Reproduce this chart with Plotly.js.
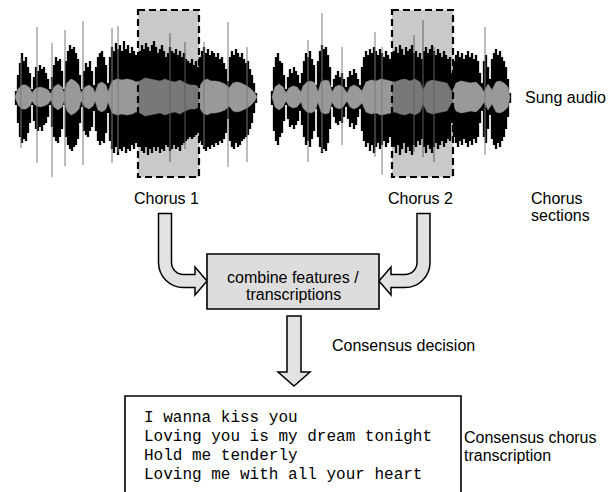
<!DOCTYPE html>
<html><head><meta charset="utf-8">
<script src="https://cdn.plot.ly/plotly-3.0.1.min.js"></script>
<style>html,body{margin:0;padding:0;background:#fff}#chart{width:608px;height:492px}</style>
</head><body><div id="chart"></div>
<script>
// ---------- DATA ----------
// Waveform peaks, segment 1 (sample times 16..256 every 2 units; upper / lower peak amplitude)
const seg1Time = [16,18,20,22,24,26,28,30,32,34,36,38,40,42,44,46,48,50,52,54,56,58,60,62,64,66,68,70,72,74,76,78,80,82,84,86,88,90,92,94,96,98,100,102,104,106,108,110,112,114,116,118,120,122,124,126,128,130,132,134,136,138,140,142,144,146,148,150,152,154,156,158,160,162,164,166,168,170,172,174,176,178,180,182,184,186,188,190,192,194,196,198,200,202,204,206,208,210,212,214,216,218,220,222,224,226,228,230,232,234,236,238,240,242,244,246,248,250,252,254,256];
const seg1PeakUp = [6,22,34,44,36,40,30,24,8, 20,30,26,32,28,30,24,18,8, 20,32,40,36,38,26, 8, 36,46,52,48,50,44,38,22, 8, 26,34,30,36,26,12, 30,40,44,46,40,32,14,
  40,50,46,54,48,52,46,56,48,52,44,50,46,42,
  40,46,52,48,54,50,46,52,56,50,44,48,52,46,40,44,50,46,44,48,42,46,40,44,38,36,34,38,32,36,30,
  40,46,50,44,48,42,46,44,40,44,38,40,34,28,16,
  40,46,42,48,44,40,44,38,34,36,28,22,14,4];
const seg1PeakDown = [8,26,40,46,42,44,36,26,8, 24,32,34,30,34,28,26,20,8, 30,40,44,46,40,32, 8, 40,48,52,54,50,48,42,26, 10, 34,38,40,34,30,14, 34,44,48,44,46,36,16,
  44,52,56,50,58,52,54,50,56,52,54,48,52,46,
  44,50,54,56,50,58,52,56,50,54,50,56,52,54,48,50,54,52,48,52,50,54,48,46,44,42,40,42,40,38,36,
  44,48,52,54,50,52,48,50,46,48,44,46,42,36,22,
  44,50,52,46,50,48,44,42,40,38,32,26,16,6];
// segment 2 (sample times 272..510 every 2 units)
const seg2Time = [272,274,276,278,280,282,284,286,288,290,292,294,296,298,300,302,304,306,308,310,312,314,316,318,320,322,324,326,328,330,332,334,336,338,340,342,344,346,348,350,352,354,356,358,360,362,364,366,368,370,372,374,376,378,380,382,384,386,388,390,392,394,396,398,400,402,404,406,408,410,412,414,416,418,420,422,424,426,428,430,432,434,436,438,440,442,444,446,448,450,452,454,456,458,460,462,464,466,468,470,472,474,476,478,480,482,484,486,488,490,492,494,496,498,500,502,504,506,508,510];
const seg2PeakUp = [6,30,40,44,36,34,22, 8, 20,28,24,30,26,22,14, 24,36,44,40,46,38,32,12, 36,46,52,48,50,42,30, 10, 18,22,26,20,24,18,10, 20,26,22,28,24,18,12,
  30,40,46,42,48,44,50,46,42,48,44,40,46,42,38,
  40,46,50,44,52,48,42,50,46,48,52,44,46,40,44,38,46,50,44,48,52,46,42,48,44,40,46,42,38,40,24,
  36,42,46,40,44,38,42,46,40,44,38,42,36,24,
  14,36,42,30,18,38,44,48,42,46,40,36,30,18,4];
const seg2PeakDown = [8,34,44,48,40,36,24, 8, 22,30,28,32,28,24,14, 28,40,48,44,50,42,34,12, 40,50,56,52,54,46,32, 10, 20,26,28,24,26,20,10, 22,30,26,32,28,20,12,
  34,44,50,46,54,48,56,50,46,52,48,44,50,46,40,
  44,50,56,48,58,52,46,56,50,54,58,48,50,44,48,42,50,56,48,52,56,50,46,52,48,44,50,46,42,44,26,
  40,46,50,44,48,42,46,50,44,48,42,46,40,26,
  14,40,46,32,18,42,48,52,46,50,44,40,32,20,6];
// inner (RMS-like) envelope
const seg1InnerTime = [15,18,22,26,30,32,35,40,44,48,51,54,58,62,64,67,71,75,79,81,85,89,93,95,98,102,106,108,112,117,122,127,132,136,140,145,150,155,160,165,170,175,180,185,190,195,199,203,207,211,215,220,225,229,233,237,241,245,250,254,257];
const seg1Inner = [0,8,12,12,9,4,8,10,9,7,3,10,13,10,4,14,18,16,12,4,10,12,9,4,13,15,12,5,16,18,17,18,17,15,16,19,18,17,16,18,16,15,17,14,12,12,10,16,18,16,16,15,13,9,14,15,14,12,9,5,0];
const seg2InnerTime = [272,275,279,283,286,289,293,297,301,303,307,311,315,318,321,325,329,332,335,339,343,347,350,354,358,362,366,371,376,381,386,391,395,400,405,410,415,420,423,427,432,437,442,447,452,456,461,466,471,476,481,484,488,492,496,500,504,508,510];
const seg2Inner = [0,10,13,10,4,9,11,10,5,11,15,16,14,5,15,17,16,5,10,12,10,4,10,12,10,6,15,17,16,18,17,16,15,17,18,16,18,15,7,15,17,16,15,14,5,14,16,15,14,15,10,5,13,7,15,16,14,10,0];
// isolated tall peaks
const spikeTime   = [21,37,52,65,83,112,118,170,185,204,228,247,308,322,342,375,382,414,423,434,485];
const spikeTop    = [39,70,54,67,76,69,71,64,55,55,75,50,57,84,50,65,50,62,77,50,70];
const spikeBottom = [51,66,80,69,68,66,55,65,52,50,70,65,65,55,48,60,78,55,60,65,58];
// chorus sections (time units)
const chorusNames = ["Chorus 1", "Chorus 2"];
const chorusStart = [138, 392];
const chorusEnd   = [199, 453];
// texts
const audioLabel = "Sung audio";
const sectionsLabel = ["Chorus", "sections"];
const combineLabel = ["combine features /", "transcriptions"];
const decisionLabel = "Consensus decision";
const resultLabel = ["Consensus chorus", "transcription"];
const lyricLines = ["I wanna kiss you", "Loving you is my dream tonight", "Hold me tenderly", "Loving me with all your heart"];

// ---------- DRAWING ----------
const SANS = "Liberation Sans, Arial, Helvetica, sans-serif";
const MONO = "Liberation Mono, Courier New, monospace";
const FS = 16;
const traces = [];
function strokes(t, up, down, color, width) {
  const xs = [], ys = [];
  t.forEach((v, i) => { xs.push(v, v, null); ys.push(up[i], -down[i], null); });
  return {x: xs, y: ys, xaxis: 'x', yaxis: 'y2', type: 'scatter', mode: 'lines',
          line: {color: color, width: width}, hoverinfo: 'skip'};
}
function envelope(t, up, low, color) {
  const xs = t.concat(t.slice().reverse());
  const ys = up.concat(low.slice().reverse().map(v => -v));
  return {x: xs, y: ys, xaxis: 'x', yaxis: 'y2', type: 'scatter', mode: 'lines',
          fill: 'toself', fillcolor: color, line: {color: color, width: 0.5}, hoverinfo: 'skip'};
}
traces.push(strokes(seg1Time, seg1PeakUp, seg1PeakDown, '#000000', 2.3));
traces.push(strokes(seg2Time, seg2PeakUp, seg2PeakDown, '#000000', 2.3));
traces.push(envelope(seg1InnerTime, seg1Inner, seg1Inner, '#999999'));
traces.push(envelope(seg2InnerTime, seg2Inner, seg2Inner, '#999999'));
traces.push(strokes(spikeTime, spikeTop, spikeBottom, '#7a7a7a', 1));

const shapes = [];
// baseline
shapes.push({type: 'line', xref: 'x', yref: 'y', x0: 11, x1: 518, y0: 97, y1: 97,
             line: {color: '#555', width: 1}, layer: 'below'});
// chorus boxes
chorusStart.forEach((s, i) => {
  shapes.push({type: 'rect', xref: 'x', yref: 'y', x0: s, x1: chorusEnd[i], y0: 10, y1: 177,
               fillcolor: 'rgba(0,0,0,0.21)', line: {color: '#000', width: 2.2, dash: '7px,4px'}, layer: 'above'});
});
const arrowFill = '#e2e2e2';
// left curved arrow
shapes.push({type: 'path', xref: 'x', yref: 'y', fillcolor: arrowFill, line: {color: '#000', width: 1.5},
  path: 'M158.5,213.5 L171.5,213.5 L171.5,262.5 C171.5,269.1 176.9,274.5 183.5,274.5 L195,274.5 L195,267 L207,281 L195,295 L195,287.5 L183.5,287.5 C169.7,287.5 158.5,276.3 158.5,262.5 Z'});
// right curved arrow
shapes.push({type: 'path', xref: 'x', yref: 'y', fillcolor: arrowFill, line: {color: '#000', width: 1.5},
  path: 'M430,213.5 L417,213.5 L417,262.5 C417,269.1 411.6,274.5 405,274.5 L391,274.5 L391,267 L379,281 L391,295 L391,287.5 L405,287.5 C418.8,287.5 430,276.3 430,262.5 Z'});
// combine box
shapes.push({type: 'rect', xref: 'x', yref: 'y', x0: 207, x1: 379, y0: 254, y1: 309,
             fillcolor: '#dddddd', line: {color: '#000', width: 1.6}});
// down arrow
shapes.push({type: 'path', xref: 'x', yref: 'y', fillcolor: arrowFill, line: {color: '#000', width: 1.5},
  path: 'M287,316 L301,316 L301,372 L310,372 L294,386 L278,372 L287,372 Z'});
// result box
shapes.push({type: 'rect', xref: 'x', yref: 'y', x0: 125, x1: 461, y0: 396, y1: 520,
             fillcolor: '#ffffff', line: {color: '#000', width: 1.6}});

const ann = [];
function txt(text, x, y, anchor, size, family) {
  ann.push({text: text, x: x, y: y, xref: 'x', yref: 'y', xanchor: anchor, yanchor: 'middle',
            showarrow: false, font: {family: family || SANS, size: size, color: '#000'}});
}
txt(audioLabel, 523, 97, 'left', FS);
chorusNames.forEach((n, i) => txt(n, (chorusStart[i] + chorusEnd[i]) / 2 - 2, 198, 'center', FS));
txt(sectionsLabel[0], 529, 198, 'left', FS);
txt(sectionsLabel[1], 529, 215, 'left', FS);
txt(combineLabel[0], 293, 277, 'center', FS);
txt(combineLabel[1], 293, 294, 'center', FS);
txt(decisionLabel, 330, 345, 'left', FS);
txt(resultLabel[0], 462, 437, 'left', FS);
txt(resultLabel[1], 462, 455, 'left', FS);
lyricLines.forEach((l, i) => txt(l, 142, 418 + i * 19, 'left', 16, MONO));

const layout = {
  width: 608, height: 492, margin: {l: 0, r: 0, t: 0, b: 0},
  paper_bgcolor: '#fff', plot_bgcolor: '#fff', showlegend: false, hovermode: false,
  xaxis: {range: [0, 608], visible: false, fixedrange: true},
  yaxis: {range: [492, 0], visible: false, fixedrange: true, domain: [0, 1]},
  yaxis2: {range: [-90, 90], visible: false, fixedrange: true, anchor: 'x',
           domain: [(492 - 187) / 492, (492 - 7) / 492]},
  shapes: shapes, annotations: ann
};
Plotly.newPlot('chart', traces, layout, {staticPlot: true, displayModeBar: false});
</script></body></html>
